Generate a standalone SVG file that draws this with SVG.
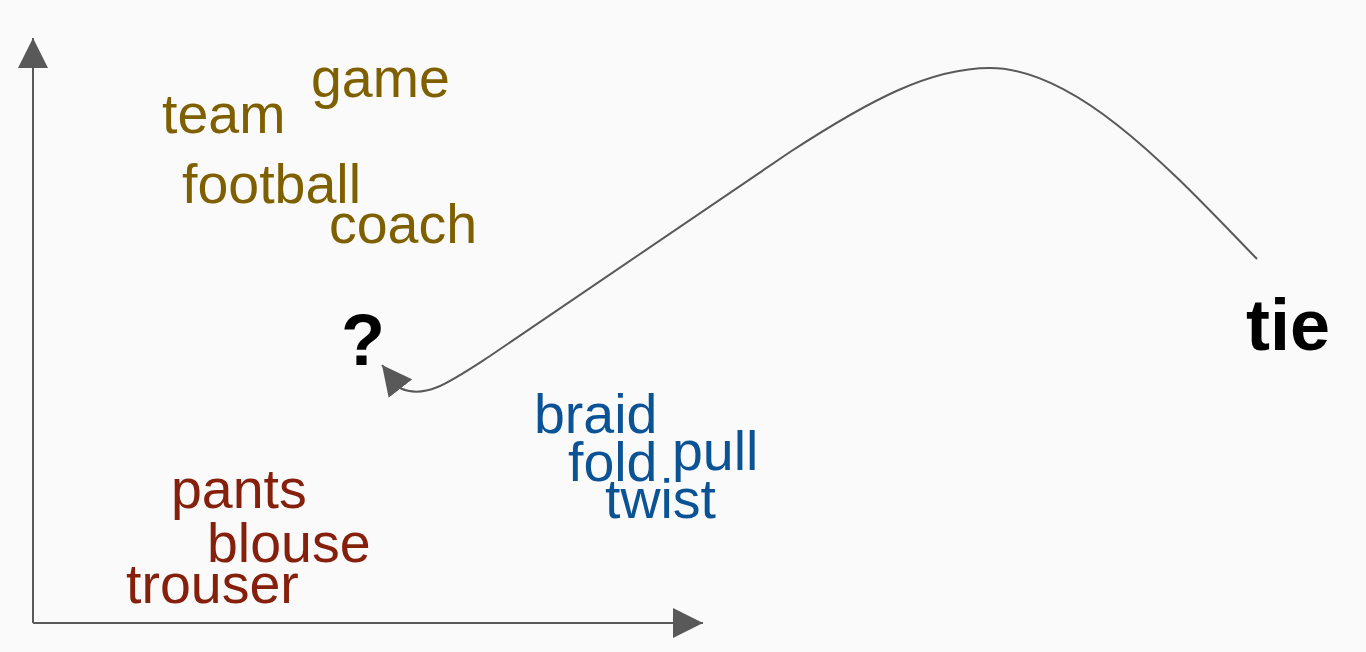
<svg xmlns="http://www.w3.org/2000/svg" width="1366" height="652" viewBox="0 0 1366 652">
  <style>
    .w { font-family: "Liberation Sans", Arial, sans-serif; font-size: 55.5px; }
    .gold { fill: #7f6000; }
    .red { fill: #85200c; }
    .blue { fill: #0b5394; }
    .big { font-family: "Liberation Sans", Arial, sans-serif; font-size: 72px; font-weight: bold; fill: #000; }
    .ln { fill: none; stroke: #595959; stroke-width: 2; }
  </style>
  <defs>
    <marker id="ah" markerUnits="userSpaceOnUse" markerWidth="30" markerHeight="30" refX="30" refY="15" orient="auto">
      <path d="M0,0 L30,15 L0,30 z" fill="#595959"/>
    </marker>
  </defs>
  <rect width="1366" height="652" fill="#fafafa"/>
  <g id="connectors">
    <path id="y-axis" class="ln" d="M33,623 L33,38" marker-end="url(#ah)"/>
    <path id="x-axis" class="ln" d="M33,623 L703,623" marker-end="url(#ah)"/>
    <path id="curve" class="ln" d="M1257,259 C1180,180 1080,68 990,68 C930,68 870,100 790,152 L490,356 C450,382 425,400 400,388 L382,365" marker-end="url(#ah)"/>
  </g>
  <g id="sports">
    <text class="w gold" x="311" y="97">game</text>
    <text class="w gold" x="162" y="133">team</text>
    <text class="w gold" x="182" y="203">football</text>
    <text class="w gold" x="329" y="243">coach</text>
  </g>
  <g id="clothes">
    <text class="w red" x="171" y="508">pants</text>
    <text class="w red" x="207" y="562">blouse</text>
    <text class="w red" x="126" y="603">trouser</text>
  </g>
  <g id="actions">
    <text class="w blue" x="534" y="433">braid</text>
    <text class="w blue" x="568" y="481">fold</text>
    <text class="w blue" x="672" y="470">pull</text>
    <text class="w blue" x="605" y="518">twist</text>
  </g>
  <g id="question"><text class="big" x="341" y="365">?</text></g>
  <g id="tie"><text class="big" x="1246" y="350">tie</text></g>
</svg>
